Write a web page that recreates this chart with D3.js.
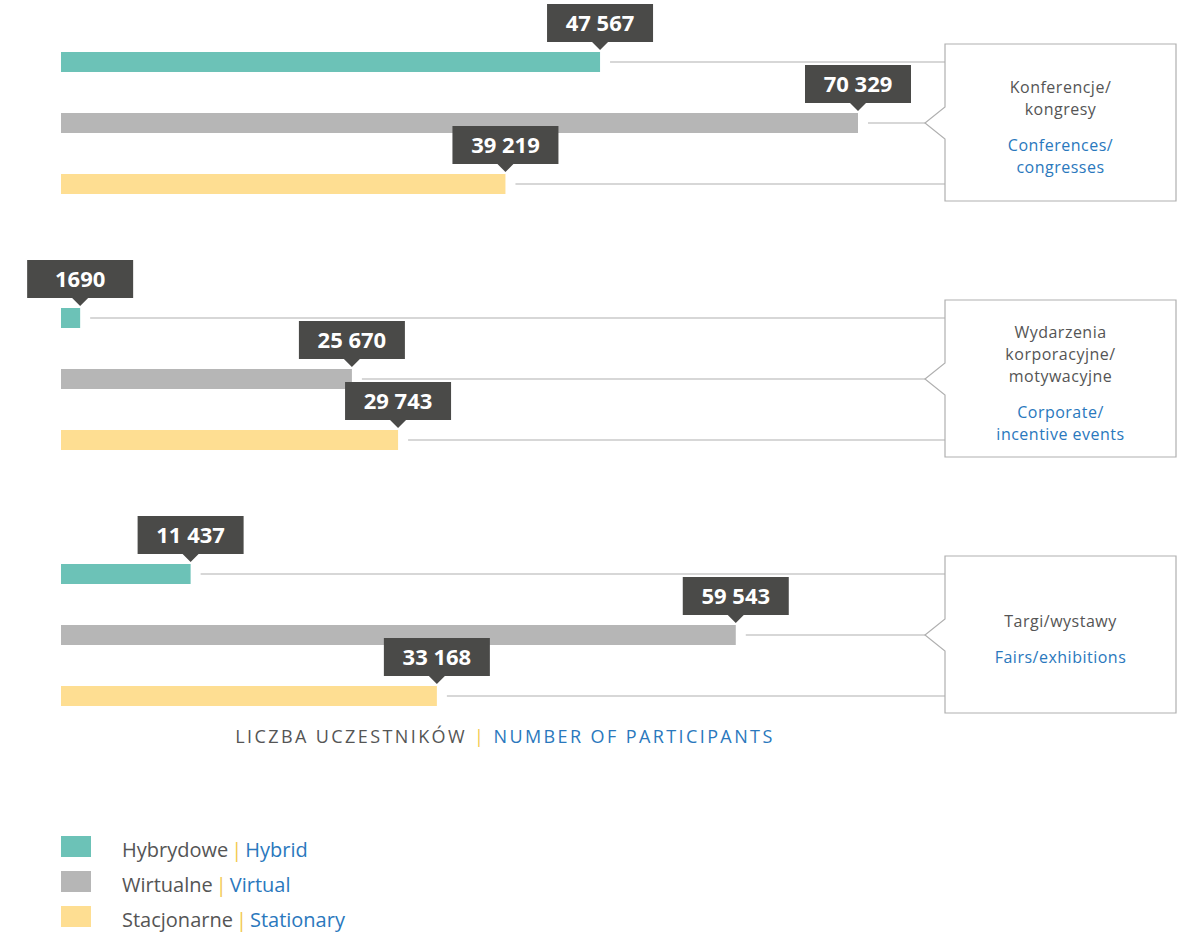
<!DOCTYPE html>
<html>
<head>
<meta charset="utf-8">
<script src="https://cdn.jsdelivr.net/npm/d3@7"></script>
<style>
  body { margin: 0; background: #fff; }
  svg { font-family: "Open Sans", sans-serif; }
</style>
</head>
<body>
<div class="container"></div>
<script>
var seriesKeys = ['hybrid', 'virtual', 'stationary'];
var seriesPl = ['Hybrydowe', 'Wirtualne', 'Stacjonarne'];
var seriesEn = ['Hybrid', 'Virtual', 'Stationary'];
var seriesColors = ['#6cc2b7', '#b6b6b6', '#fede92'];

var categoriesPl = [['Konferencje/', 'kongresy'], ['Wydarzenia', 'korporacyjne/', 'motywacyjne'], ['Targi/wystawy']];
var categoriesEn = [['Conferences/', 'congresses'], ['Corporate/', 'incentive events'], ['Fairs/exhibitions']];

var hybridValues = [47567, 1690, 11437];
var virtualValues = [70329, 25670, 59543];
var stationaryValues = [39219, 29743, 33168];

var values = [hybridValues, virtualValues, stationaryValues];

var svg = d3.select('.container')
	.append('svg')
	.attr('width', 1192)
	.attr('height', 933);

var x = d3.scaleLinear().domain([0, 70329]).range([61, 858]);
var group = d3.scaleBand().domain(d3.range(categoriesPl.length)).range([0, 768]);
var row = d3.scalePoint().domain(seriesKeys).range([52, 174]);

var fmt = function(v) { return v < 10000 ? String(v) : d3.format(',')(v).replace(/,/g, ' '); };

var boxLeft = 945, boxRight = 1176;

categoriesPl.forEach(function(cat, ci) {
	var g = svg.append('g').attr('transform', 'translate(0,' + group(ci) + ')');
	var barH = 20;

	seriesKeys.forEach(function(key, si) {
		var v = values[si][ci];
		var y0 = row(key);
		var yc = y0 + barH / 2;

		// leader line
		g.append('line')
			.attr('x1', x(v) + 10)
			.attr('x2', si === 1 ? boxLeft - 20 : boxLeft)
			.attr('y1', yc).attr('y2', yc)
			.attr('stroke', '#b0b0b0')
			.attr('stroke-width', 1.2);

		g.append('rect')
			.attr('x', x(0))
			.attr('y', y0)
			.attr('width', x(v) - x(0))
			.attr('height', barH)
			.attr('fill', seriesColors[si]);

		// value callout
		var bw = 106, bh = 38, by = y0 - 10 - bh;
		var cx = x(v);
		g.append('path')
			.attr('d', 'M' + (cx - bw / 2) + ',' + by + 'h' + bw + 'v' + bh + 'h' + (-(bw / 2 - 8)) +
				'l-8,8l-8,-8H' + (cx - bw / 2) + 'Z')
			.attr('fill', '#4a4a48');
		g.append('text')
			.attr('x', cx)
			.attr('y', by + bh / 2 + 8)
			.attr('text-anchor', 'middle')
			.attr('fill', '#fff')
			.attr('font-weight', 700)
			.attr('font-size', 22)
			.text(fmt(v));
	});

	// category box with notch
	var top = row(seriesKeys[0]) - 8;
	var bottom = row(seriesKeys[2]) + barH + 7;
	var mid = row(seriesKeys[1]) + barH / 2;
	g.append('path')
		.attr('d', 'M' + boxLeft + ',' + top + 'H' + boxRight + 'V' + bottom + 'H' + boxLeft +
			'V' + (mid + 16) + 'L' + (boxLeft - 20) + ',' + mid + 'L' + boxLeft + ',' + (mid - 16) + 'Z')
		.attr('fill', '#fff')
		.attr('stroke', '#b0b0b0')
		.attr('stroke-width', 1.2);

	var lines = cat.length + categoriesEn[ci].length;
	var lh = 22, gap = 14;
	var blockH = (lines - 1) * lh + gap;
	var cxBox = (boxLeft + boxRight) / 2;
	var ty = (top + bottom) / 2 - blockH / 2 + 10;
	cat.forEach(function(t, i) {
		g.append('text').attr('x', cxBox).attr('y', ty + i * lh)
			.attr('text-anchor', 'middle').attr('font-size', 16).attr('letter-spacing', 0.5)
			.attr('fill', '#555')
			.text(t);
	});
	categoriesEn[ci].forEach(function(t, i) {
		g.append('text').attr('x', cxBox).attr('y', ty + cat.length * lh + gap + i * lh)
			.attr('text-anchor', 'middle').attr('font-size', 16).attr('letter-spacing', 0.5)
			.attr('fill', '#2a78bd')
			.text(t);
	});
});

// axis title
var title = svg.append('text')
	.attr('x', 505).attr('y', 743)
	.attr('text-anchor', 'middle')
	.attr('font-size', 18)
	.attr('letter-spacing', 2.4);
title.append('tspan').attr('fill', '#555').text('LICZBA UCZESTNIKÓW ');
title.append('tspan').attr('fill', '#f2c84b').text('|');
title.append('tspan').attr('fill', '#2a78bd').text(' NUMBER OF PARTICIPANTS');

// legend
var legend = svg.append('g').attr('transform', 'translate(61,836)');
seriesKeys.forEach(function(key, si) {
	var lg = legend.append('g').attr('transform', 'translate(0,' + si * 35 + ')');
	lg.append('rect').attr('width', 30).attr('height', 21).attr('fill', seriesColors[si]);
	var t = lg.append('text').attr('x', 61).attr('y', 21).attr('font-size', 20);
	t.append('tspan').attr('fill', '#555').text(seriesPl[si]);
	t.append('tspan').attr('fill', '#f2c84b').attr('dx', 3).text('|');
	t.append('tspan').attr('fill', '#2a78bd').attr('dx', 3).text(seriesEn[si]);
});
</script>
</body>
</html>
